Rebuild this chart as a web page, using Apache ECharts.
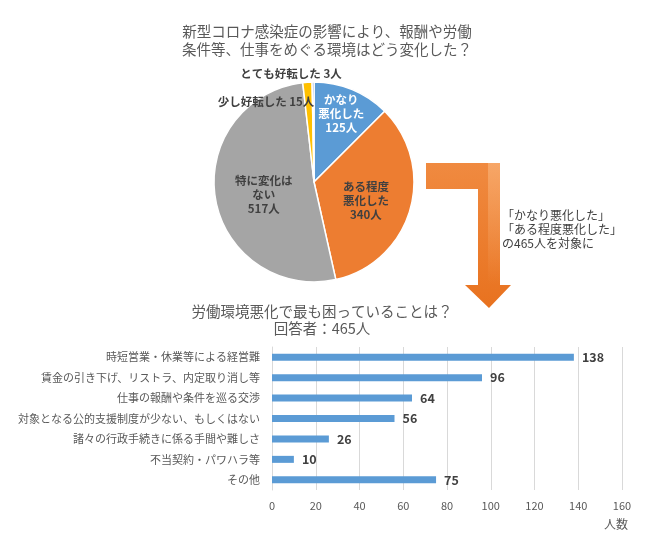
<!DOCTYPE html>
<html>
<head>
<meta charset="utf-8">
<script src="https://cdn.jsdelivr.net/npm/echarts@6/dist/echarts.min.js"></script>
<style>
html,body{margin:0;padding:0;background:#fff;}
#chart{width:650px;height:537px;}
</style>
</head>
<body>
<div id="chart"></div>
<script>
// ---- Data ----
const pieTitle = '新型コロナ感染症の影響により、報酬や労働\n条件等、仕事をめぐる環境はどう変化した？';
const pieNames = ['かなり悪化した', 'ある程度悪化した', '特に変化はない', '少し好転した', 'とても好転した'];
const pieValues = [125, 340, 517, 15, 3];
const pieLabelLines = [['かなり', '悪化した'], ['ある程度', '悪化した'], ['特に変化は', 'ない'], ['少し好転した'], ['とても好転した']];
const pieColors = ['#5B9BD5', '#ED7D31', '#A5A5A5', '#FFC000', '#4472C4'];

const noteText = '「かなり悪化した」\n「ある程度悪化した」\nの465人を対象に';

const barTitle = '労働環境悪化で最も困っていることは？\n回答者：465人';
const barCategories = [
  '時短営業・休業等による経営難',
  '賃金の引き下げ、リストラ、内定取り消し等',
  '仕事の報酬や条件を巡る交渉',
  '対象となる公的支援制度が少ない、もしくはない',
  '諸々の行政手続きに係る手間や難しさ',
  '不当契約・パワハラ等',
  'その他'
];
const barValues = [138, 96, 64, 56, 26, 10, 75];
const xMin = 0, xMax = 160, xInterval = 20;
const xAxisName = '人数';

// ---- Chart ----
const FONT = '"Noto Sans CJK JP", "Noto Sans", sans-serif';
const chart = echarts.init(document.getElementById('chart'), null, {renderer: 'canvas'});

const pieData = pieNames.map((n, i) => {
  const small = i >= 3;
  const txt = small
    ? pieLabelLines[i][0] + ' ' + pieValues[i] + '人'
    : pieLabelLines[i].join('\n') + '\n' + pieValues[i] + '人';
  return {
    name: n,
    value: pieValues[i],
    itemStyle: {color: pieColors[i]},
    label: {
      show: true,
      position: small ? 'outside' : 'inside',
      formatter: txt,
      color: i === 0 ? '#ffffff' : '#404040'
    },
    labelLine: {show: false}
  };
});

const option = {
  backgroundColor: '#ffffff',
  animation: false,
  textStyle: {fontFamily: FONT},
  graphic: [
    {
      type: 'text',
      style: {
        text: pieTitle, x: 327, y: 40, align: 'center', verticalAlign: 'middle',
        font: '14.5px ' + FONT, lineHeight: 18, fill: '#595959'
      }
    },
    {
      type: 'text',
      style: {
        text: barTitle, x: 322, y: 320, align: 'center', verticalAlign: 'middle',
        font: '14.5px ' + FONT, lineHeight: 17, fill: '#595959'
      }
    },
    {
      type: 'polygon',
      shape: {
        points: [[426,163],[500,163],[500,285],[511,285],[489,308],[465,285],[478,285],[478,189],[426,189]]
      },
      style: {
        fill: new echarts.graphic.LinearGradient(0, 0, 0, 1, [
          {offset: 0, color: '#F08A40'},
          {offset: 1, color: '#E8721F'}
        ])
      }
    },
    {
      type: 'rect',
      shape: {x: 488, y: 163, width: 12, height: 122},
      style: {
        fill: new echarts.graphic.LinearGradient(0, 0, 0, 1, [
          {offset: 0, color: 'rgba(255,200,150,0.45)'},
          {offset: 1, color: 'rgba(255,200,150,0)'}
        ])
      }
    },
    {
      type: 'text',
      style: {
        text: noteText, x: 502, y: 229, align: 'left', verticalAlign: 'middle',
        font: '12px ' + FONT, lineHeight: 14, fill: '#404040'
      }
    }
  ],
  grid: {left: 272, right: 28, top: 347, bottom: 47, containLabel: false},
  xAxis: {
    type: 'value',
    min: xMin, max: xMax, interval: xInterval,
    axisLine: {show: false},
    axisTick: {show: false},
    splitLine: {show: true, lineStyle: {color: '#D9D9D9', width: 1}},
    axisLabel: {color: '#595959', fontSize: 11, margin: 10, fontFamily: FONT},
    name: xAxisName,
    nameLocation: 'end',
    nameGap: 6,
    nameTextStyle: {color: '#595959', fontSize: 12, align: 'right', verticalAlign: 'top', padding: [28, 0, 0, 0], fontFamily: FONT}
  },
  yAxis: {
    type: 'category',
    data: barCategories,
    inverse: true,
    axisLine: {show: true, lineStyle: {color: '#D9D9D9'}},
    axisTick: {show: false},
    axisLabel: {color: '#595959', fontSize: 11, margin: 12, fontFamily: FONT},
    splitLine: {show: false}
  },
  series: [
    {
      type: 'pie',
      center: [314, 182],
      radius: 100,
      startAngle: 90,
      clockwise: true,
      avoidLabelOverlap: false,
      data: pieData,
      itemStyle: {borderColor: '#ffffff', borderWidth: 1.5},
      label: {fontSize: 11.5, fontWeight: 'bold', lineHeight: 14, fontFamily: FONT},
      emphasis: {disabled: true},
      labelLayout: function (p) {
        const i = p.dataIndex;
        if (i === 0) return {dx: 7, dy: -19};
        if (i === 1) return {dx: 1, dy: 4};
        if (i === 2) return {dx: 2, dy: 4};
        if (i === 3) return {x: 266, y: 102, align: 'center', verticalAlign: 'middle'};
        if (i === 4) return {x: 291, y: 74, align: 'center', verticalAlign: 'middle'};
        return {};
      }
    },
    {
      type: 'bar',
      data: barValues,
      barWidth: 7,
      itemStyle: {color: '#5B9BD5'},
      label: {
        show: true, position: 'right', distance: 8,
        color: '#404040', fontWeight: 'bold', fontSize: 12.5, fontFamily: FONT
      },
      emphasis: {disabled: true}
    }
  ]
};
chart.setOption(option);
</script>
</body>
</html>
